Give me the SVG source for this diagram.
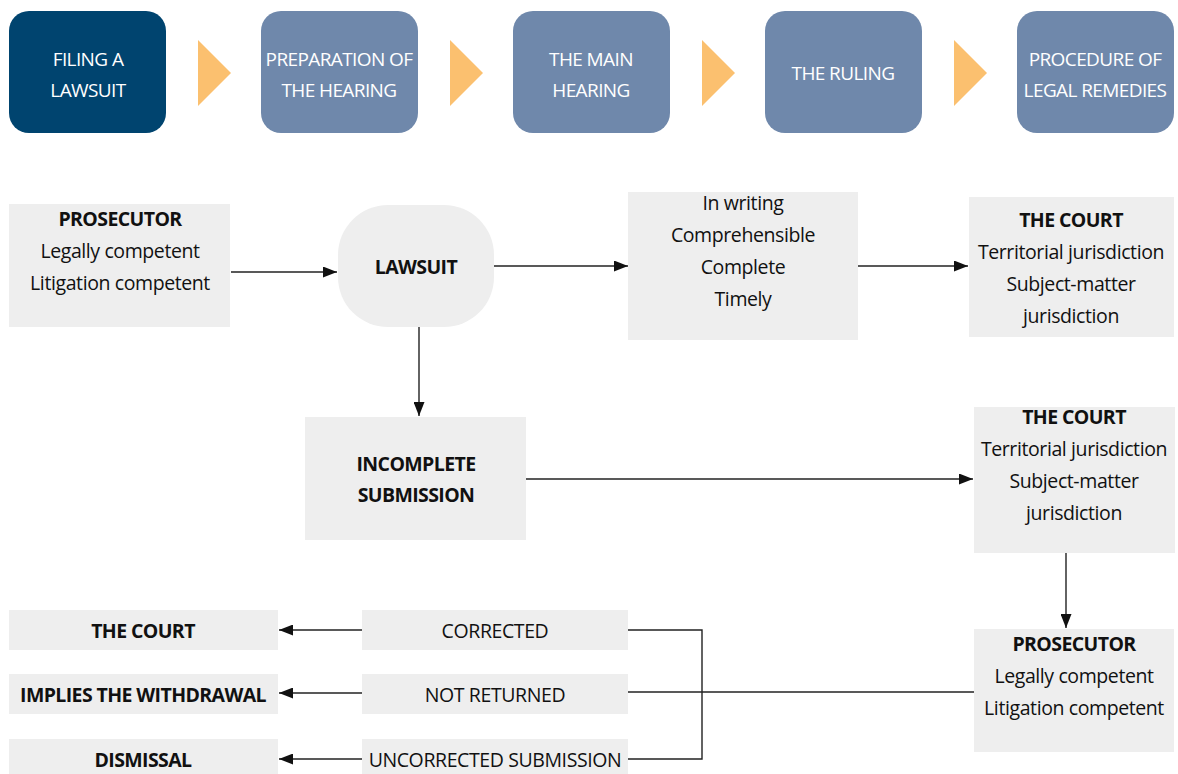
<svg xmlns="http://www.w3.org/2000/svg" width="1178" height="774" viewBox="0 0 1178 774">
<style>
.step{fill:#6f88ab}
.step1{fill:#00446f}
.tri{fill:#fbc06f}
.st{font-family:"Open Sans","Noto Sans",sans-serif;font-size:19px;fill:#ffffff;text-anchor:middle;letter-spacing:-0.6px}
.box{fill:#eeeeee}
.t{font-family:"Open Sans","Noto Sans",sans-serif;font-size:19.5px;fill:#111111;text-anchor:middle;letter-spacing:-0.4px}
.b{font-weight:bold;letter-spacing:-0.6px}
.ln{stroke:#222222;stroke-width:1.4;fill:none}
.ar{stroke:#222222;stroke-width:1.4;fill:none;marker-end:url(#ah)}
</style>
<defs>
<marker id="ah" viewBox="0 0 14 11" refX="14" refY="5.5" markerWidth="14" markerHeight="11" markerUnits="userSpaceOnUse" orient="auto">
<path d="M0,0 L14,5.5 L0,11 Z" fill="#111111"/>
</marker>
</defs>
<rect width="1178" height="774" fill="#ffffff"/>
<g id="steps">
<g id="step1"><rect class="step1" x="9" y="11" width="157" height="122" rx="20"/><text class="st" x="88" y="66">FILING A</text><text class="st" x="88" y="97">LAWSUIT</text></g>
<polygon class="tri" points="198,40 231,73 198,106"/>
<g id="step2"><rect class="step" x="261" y="11" width="157" height="122" rx="20"/><text class="st" x="339" y="66">PREPARATION OF</text><text class="st" x="339" y="97">THE HEARING</text></g>
<polygon class="tri" points="450,40 483,73 450,106"/>
<g id="step3"><rect class="step" x="513" y="11" width="157" height="122" rx="20"/><text class="st" x="591" y="66">THE MAIN</text><text class="st" x="591" y="97">HEARING</text></g>
<polygon class="tri" points="702,40 735,73 702,106"/>
<g id="step4"><rect class="step" x="765" y="11" width="157" height="122" rx="20"/><text class="st" x="843" y="80">THE RULING</text></g>
<polygon class="tri" points="954,40 987,73 954,106"/>
<g id="step5"><rect class="step" x="1017" y="11" width="157" height="122" rx="20"/><text class="st" x="1095" y="66">PROCEDURE OF</text><text class="st" x="1095" y="97">LEGAL REMEDIES</text></g>
</g>
<g id="connectors">
<line class="ar" x1="231" y1="272" x2="337" y2="272"/>
<line class="ar" x1="494" y1="266" x2="628" y2="266"/>
<line class="ar" x1="858" y1="266" x2="968" y2="266"/>
<line class="ar" x1="419" y1="327" x2="419" y2="416"/>
<line class="ar" x1="526" y1="479" x2="973" y2="479"/>
<line class="ar" x1="1066" y1="553" x2="1066" y2="628"/>
<line class="ln" x1="974" y1="692" x2="628" y2="692"/>
<polyline class="ln" points="628,630 702,630 702,759 628,759"/>
<line class="ar" x1="362" y1="630" x2="279" y2="630"/>
<line class="ar" x1="362" y1="693" x2="279" y2="693"/>
<line class="ar" x1="362" y1="759" x2="279" y2="759"/>
</g>
<g id="prosecutor1"><rect class="box" x="9" y="204" width="221" height="123"/><text class="t b" x="120" y="226">PROSECUTOR</text><text class="t" x="120" y="258">Legally competent</text><text class="t" x="120" y="290">Litigation competent</text></g>
<g id="lawsuit"><rect class="box" x="338" y="205" width="156" height="122" rx="50"/><text class="t b" x="416" y="274">LAWSUIT</text></g>
<g id="criteria"><rect class="box" x="628" y="192" width="230" height="148"/><text class="t" x="743" y="210">In writing</text><text class="t" x="743" y="242">Comprehensible</text><text class="t" x="743" y="274">Complete</text><text class="t" x="743" y="306">Timely</text></g>
<g id="court1"><rect class="box" x="969" y="197" width="205" height="140"/><text class="t b" x="1071" y="227">THE COURT</text><text class="t" x="1071" y="259">Territorial jurisdiction</text><text class="t" x="1071" y="291">Subject-matter</text><text class="t" x="1071" y="323">jurisdiction</text></g>
<g id="incomplete"><rect class="box" x="305" y="417" width="221" height="123"/><text class="t b" x="416" y="471">INCOMPLETE</text><text class="t b" x="416" y="502">SUBMISSION</text></g>
<g id="court2"><rect class="box" x="974" y="407" width="201" height="146"/><text class="t b" x="1074" y="424">THE COURT</text><text class="t" x="1074" y="456">Territorial jurisdiction</text><text class="t" x="1074" y="488">Subject-matter</text><text class="t" x="1074" y="520">jurisdiction</text></g>
<g id="prosecutor2"><rect class="box" x="974" y="629" width="200" height="123"/><text class="t b" x="1074" y="651">PROSECUTOR</text><text class="t" x="1074" y="683">Legally competent</text><text class="t" x="1074" y="715">Litigation competent</text></g>
<g id="corrected"><rect class="box" x="362" y="610" width="266" height="40"/><text class="t" x="495" y="638">CORRECTED</text></g>
<g id="notreturned"><rect class="box" x="362" y="674" width="266" height="40"/><text class="t" x="495" y="702">NOT RETURNED</text></g>
<g id="uncorrected"><rect class="box" x="362" y="739" width="266" height="35"/><text class="t" x="495" y="767">UNCORRECTED SUBMISSION</text></g>
<g id="court3"><rect class="box" x="9" y="610" width="269" height="40"/><text class="t b" x="143" y="638">THE COURT</text></g>
<g id="withdrawal"><rect class="box" x="9" y="674" width="269" height="40"/><text class="t b" x="143" y="702">IMPLIES THE WITHDRAWAL</text></g>
<g id="dismissal"><rect class="box" x="9" y="739" width="269" height="35"/><text class="t b" x="143" y="767">DISMISSAL</text></g>
</svg>
